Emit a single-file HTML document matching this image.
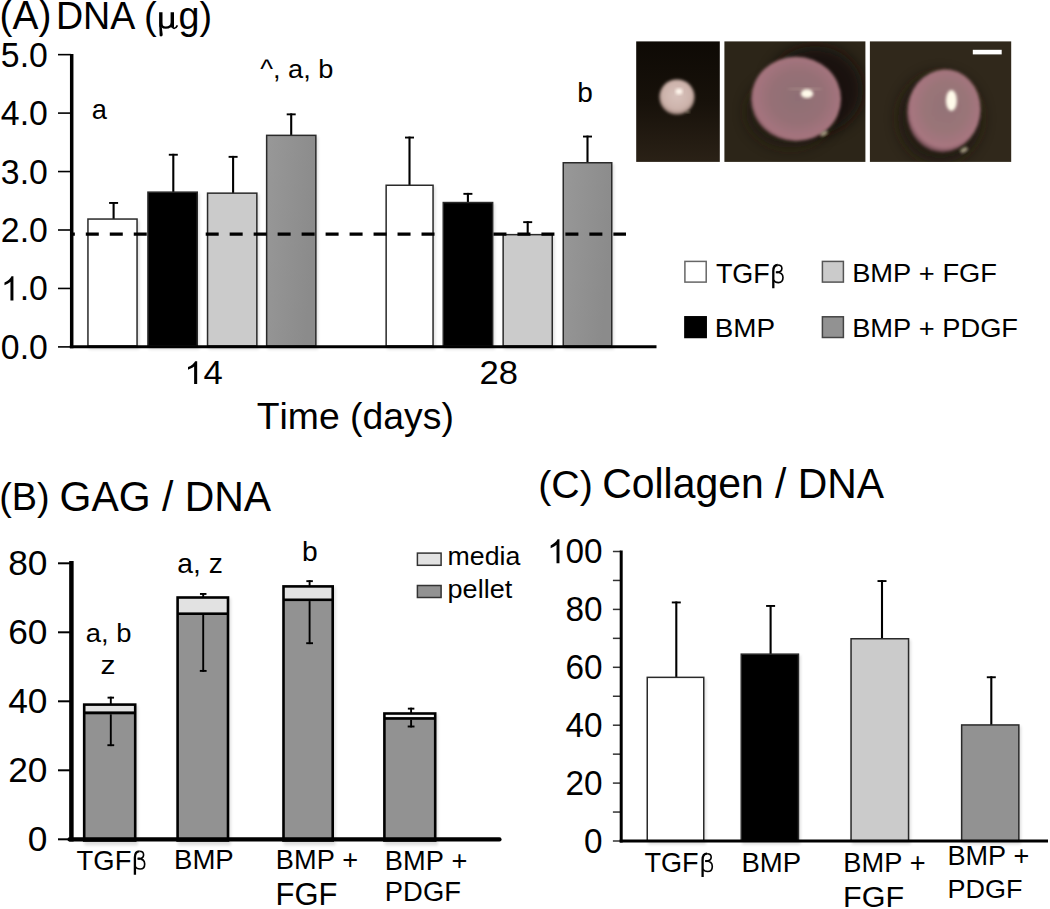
<!DOCTYPE html>
<html><head><meta charset="utf-8"><style>
html,body{margin:0;padding:0;background:#fff;}
svg{display:block;}
text{font-family:"Liberation Sans",sans-serif;font-kerning:none;}
text.sf{font-family:"Liberation Serif",serif;}
</style></head><body>
<svg width="1050" height="909" viewBox="0 0 1050 909">
<rect width="1050" height="909" fill="#fff"/>

<defs>
 <linearGradient id="dgg" x1="0" y1="0" x2="1" y2="0.3"><stop offset="0" stop-color="#989898"/><stop offset="1" stop-color="#8b8b8b"/></linearGradient>
 <filter id="shd" x="-20%" y="-20%" width="140%" height="140%"><feGaussianBlur stdDeviation="1.5"/></filter>
 <filter id="bl" x="-20%" y="-20%" width="140%" height="140%"><feGaussianBlur stdDeviation="1.4"/></filter>
 <filter id="bl2" x="-50%" y="-50%" width="200%" height="200%"><feGaussianBlur stdDeviation="7"/></filter>
 <filter id="bl3" x="-50%" y="-50%" width="200%" height="200%"><feGaussianBlur stdDeviation="1.8"/></filter>
 <radialGradient id="s1" cx="0.5" cy="0.45" r="0.55"><stop offset="0" stop-color="#d8c2bc"/><stop offset="0.75" stop-color="#ccb2aa"/><stop offset="1" stop-color="#9a8078"/></radialGradient>
 <radialGradient id="s2" cx="0.52" cy="0.48" r="0.55"><stop offset="0" stop-color="#8e6e74"/><stop offset="0.55" stop-color="#967076"/><stop offset="0.88" stop-color="#a6747e"/><stop offset="1" stop-color="#624046"/></radialGradient>
 <radialGradient id="s3" cx="0.52" cy="0.45" r="0.55"><stop offset="0" stop-color="#927276"/><stop offset="0.55" stop-color="#9a7478"/><stop offset="0.88" stop-color="#a87680"/><stop offset="1" stop-color="#644248"/></radialGradient>
 <clipPath id="c2"><rect x="724.4" y="41.4" width="141" height="120.5"/></clipPath>
 <clipPath id="c3"><rect x="869.9" y="41.4" width="141.3" height="120.5"/></clipPath>
</defs>
<linearGradient id="p1" x1="0" y1="0" x2="0" y2="1"><stop offset="0" stop-color="#0e0a05"/><stop offset="0.5" stop-color="#17110a"/><stop offset="1" stop-color="#2a2116"/></linearGradient>
<rect x="636.2" y="41.4" width="83.6" height="120.5" fill="url(#p1)"/>
<rect x="724.4" y="41.4" width="141" height="120.5" fill="#2c2518"/>
<rect x="869.9" y="41.4" width="141.3" height="120.5" fill="#30281b"/>
<g clip-path="url(#c2)">
 <ellipse cx="815" cy="90" rx="48" ry="44" fill="#120d07" filter="url(#bl2)" opacity="0.8"/>
 <ellipse cx="790" cy="112" rx="44" ry="36" fill="#1a140c" filter="url(#bl2)" opacity="0.6"/>
</g>
<g clip-path="url(#c3)">
 <ellipse cx="940" cy="118" rx="42" ry="45" fill="#1c150d" filter="url(#bl2)" opacity="0.7"/>
</g>
<circle cx="677" cy="97" r="17.6" fill="url(#s1)" filter="url(#bl)"/>
<ellipse cx="679" cy="91.5" rx="3.5" ry="3" fill="#fff6ec" filter="url(#bl)"/>
<ellipse cx="796" cy="99" rx="45" ry="42.3" fill="url(#s2)" filter="url(#bl)"/>
<ellipse cx="805" cy="89" rx="18" ry="1.4" fill="#c8b0a0" opacity="0.3" filter="url(#bl)"/>
<ellipse cx="807" cy="93.7" rx="6.2" ry="4.4" fill="#fffaea" filter="url(#bl)"/>
<ellipse cx="824" cy="133.5" rx="4" ry="2" fill="#c8c0a0" opacity="0.8" filter="url(#bl)" transform="rotate(-30 824 133.5)"/>
<ellipse cx="943.8" cy="110.8" rx="36.6" ry="41.5" fill="url(#s3)" filter="url(#bl)" transform="rotate(10 943.8 110.8)"/>
<ellipse cx="951.4" cy="100.5" rx="5.5" ry="10.5" fill="#fffaea" filter="url(#bl)"/>
<ellipse cx="964" cy="150" rx="4" ry="2.2" fill="#c8c0a0" opacity="0.8" filter="url(#bl)" transform="rotate(-30 964 150)"/>
<ellipse cx="688" cy="112" rx="2" ry="1" fill="#c8c0a0" opacity="0.6" filter="url(#bl)"/>
<rect x="972.8" y="49.8" width="28.9" height="4.6" fill="#ffffff"/>

<text transform="matrix(0.9719 0 0 1 -0.41 29.00)" font-size="40.00" fill="#000">(A)</text>
<text transform="matrix(0.9626 0 0 1 55.91 29.00)" font-size="39.10" fill="#000">DNA</text>
<text transform="matrix(0.9995 0 0 1 144.03 29.00)" font-size="38.30" fill="#000">(</text>
<g fill="#000"><path d="M159.1 12.3H162.5V26.8H159.1Z M170.6 12.3H174V27.6H170.6Z M159.3 26.5L161.7 26.5L162.7 34.6Q162.8 36.6 161 36.6Q159.3 36.6 159.6 34.8Z"/><path fill="none" stroke="#000" stroke-width="2.3" d="M160.9 22.5C160.9 26.4 163.1 27.7 165.8 27.7C168.7 27.7 171.4 26.2 172.2 22.5"/><path fill="none" stroke="#000" stroke-width="1.7" d="M172.4 26.8C173 28.6 175.6 29.4 177.4 25.4"/></g>
<text transform="matrix(0.9843 0 0 1 178.42 29.00)" font-size="38.30" fill="#000">g)</text>
<text transform="matrix(0.9655 0 0 1 0.84 358.90)" font-size="35.00" fill="#000">0.0</text>
<line x1="58.00" y1="346.90" x2="71.00" y2="346.90" stroke="#000" stroke-width="1.6"/>
<text transform="matrix(0.9655 0 0 1 0.84 300.45)" font-size="35.00" fill="#000"><tspan x="19.47">.0</tspan></text>
<path transform="matrix(0.9655 0 0 1 0.84 300.45) translate(0.00 0) scale(0.01709 -0.01709)" d="M763 0H583V1090Q518 1030 412 972T221 884V1050Q372 1118 485 1215T645 1409H763Z" fill="#000"/>
<line x1="58.00" y1="288.45" x2="71.00" y2="288.45" stroke="#000" stroke-width="1.6"/>
<text transform="matrix(0.9655 0 0 1 0.84 242.00)" font-size="35.00" fill="#000">2.0</text>
<line x1="58.00" y1="230.00" x2="71.00" y2="230.00" stroke="#000" stroke-width="1.6"/>
<text transform="matrix(0.9655 0 0 1 0.84 183.55)" font-size="35.00" fill="#000">3.0</text>
<line x1="58.00" y1="171.55" x2="71.00" y2="171.55" stroke="#000" stroke-width="1.6"/>
<text transform="matrix(0.9655 0 0 1 0.84 125.10)" font-size="35.00" fill="#000">4.0</text>
<line x1="58.00" y1="113.10" x2="71.00" y2="113.10" stroke="#000" stroke-width="1.6"/>
<text transform="matrix(0.9655 0 0 1 0.84 66.65)" font-size="35.00" fill="#000">5.0</text>
<line x1="58.00" y1="54.65" x2="71.00" y2="54.65" stroke="#000" stroke-width="1.6"/>
<rect x="88.70" y="220.30" width="50.60" height="129.20" fill="#000" opacity="0.13" filter="url(#shd)"/>
<rect x="148.70" y="193.40" width="50.80" height="156.10" fill="#000" opacity="0.13" filter="url(#shd)"/>
<rect x="208.30" y="194.40" width="50.80" height="155.10" fill="#000" opacity="0.13" filter="url(#shd)"/>
<rect x="267.40" y="136.60" width="50.70" height="212.90" fill="#000" opacity="0.13" filter="url(#shd)"/>
<rect x="386.90" y="186.50" width="48.40" height="163.00" fill="#000" opacity="0.13" filter="url(#shd)"/>
<rect x="444.00" y="203.80" width="50.90" height="145.70" fill="#000" opacity="0.13" filter="url(#shd)"/>
<rect x="503.90" y="235.90" width="50.60" height="113.60" fill="#000" opacity="0.13" filter="url(#shd)"/>
<rect x="564.00" y="164.00" width="50.00" height="185.50" fill="#000" opacity="0.13" filter="url(#shd)"/>
<line x1="113.60" y1="202.00" x2="113.60" y2="219.30" stroke="#000" stroke-width="2.1"/>
<line x1="109.10" y1="202.95" x2="118.10" y2="202.95" stroke="#000" stroke-width="1.9"/>
<rect x="87.95" y="219.05" width="49.10" height="126.95" fill="#ffffff" stroke="#2a2a2a" stroke-width="1.5"/>
<line x1="173.30" y1="153.80" x2="173.30" y2="192.40" stroke="#000" stroke-width="2.1"/>
<line x1="168.80" y1="154.75" x2="177.80" y2="154.75" stroke="#000" stroke-width="1.9"/>
<rect x="147.95" y="192.15" width="49.30" height="153.85" fill="#000000" stroke="#2a2a2a" stroke-width="1.5"/>
<line x1="233.10" y1="155.90" x2="233.10" y2="193.40" stroke="#000" stroke-width="2.1"/>
<line x1="228.60" y1="156.85" x2="237.60" y2="156.85" stroke="#000" stroke-width="1.9"/>
<rect x="207.55" y="193.15" width="49.30" height="152.85" fill="#cbcbcb" stroke="#2a2a2a" stroke-width="1.5"/>
<line x1="291.20" y1="113.40" x2="291.20" y2="135.60" stroke="#000" stroke-width="2.1"/>
<line x1="286.70" y1="114.35" x2="295.70" y2="114.35" stroke="#000" stroke-width="1.9"/>
<rect x="266.65" y="135.35" width="49.20" height="210.65" fill="url(#dgg)" stroke="#2a2a2a" stroke-width="1.5"/>
<line x1="409.50" y1="136.60" x2="409.50" y2="185.50" stroke="#000" stroke-width="2.1"/>
<line x1="405.00" y1="137.55" x2="414.00" y2="137.55" stroke="#000" stroke-width="1.9"/>
<rect x="386.15" y="185.25" width="46.90" height="160.75" fill="#ffffff" stroke="#2a2a2a" stroke-width="1.5"/>
<line x1="467.90" y1="192.90" x2="467.90" y2="202.80" stroke="#000" stroke-width="2.1"/>
<line x1="463.40" y1="193.85" x2="472.40" y2="193.85" stroke="#000" stroke-width="1.9"/>
<rect x="443.25" y="202.55" width="49.40" height="143.45" fill="#000000" stroke="#2a2a2a" stroke-width="1.5"/>
<line x1="527.70" y1="221.20" x2="527.70" y2="234.90" stroke="#000" stroke-width="2.1"/>
<line x1="523.20" y1="222.15" x2="532.20" y2="222.15" stroke="#000" stroke-width="1.9"/>
<rect x="503.15" y="234.65" width="49.10" height="111.35" fill="#cbcbcb" stroke="#2a2a2a" stroke-width="1.5"/>
<line x1="587.50" y1="135.60" x2="587.50" y2="163.00" stroke="#000" stroke-width="2.1"/>
<line x1="583.00" y1="136.55" x2="592.00" y2="136.55" stroke="#000" stroke-width="1.9"/>
<rect x="563.25" y="162.75" width="48.50" height="183.25" fill="url(#dgg)" stroke="#2a2a2a" stroke-width="1.5"/>
<line x1="70.00" y1="234.20" x2="626.00" y2="234.20" stroke="#000" stroke-width="3.2" stroke-dasharray="13 10.98" stroke-dashoffset="8.18"/>
<line x1="71.70" y1="54.00" x2="71.70" y2="348.20" stroke="#000" stroke-width="3.5"/>
<line x1="69.80" y1="346.70" x2="656.50" y2="346.70" stroke="#000" stroke-width="3.0"/>
<text transform="matrix(1.0552 0 0 1 184.26 383.90)" font-size="32.85" fill="#000"><tspan x="18.27">4</tspan></text>
<path transform="matrix(1.0552 0 0 1 184.26 383.90) translate(0.00 0) scale(0.01604 -0.01604)" d="M763 0H583V1090Q518 1030 412 972T221 884V1050Q372 1118 485 1215T645 1409H763Z" fill="#000"/>
<text transform="matrix(1.0446 0 0 1 479.46 384.10)" font-size="33.08" fill="#000">28</text>
<text transform="matrix(1.0024 0 0 1 256.76 429.00)" font-size="37.26" fill="#000">Time (days)</text>
<text transform="matrix(0.9976 0 0 1 91.84 118.70)" font-size="27.32" fill="#000">a</text>
<text transform="matrix(1.0323 0 0 1 260.17 78.00)" font-size="26.36" fill="#000">^, a, b</text>
<text transform="matrix(1.0306 0 0 1 577.29 101.70)" font-size="27.19" fill="#000">b</text>
<rect x="684.90" y="261.40" width="21.30" height="20.70" fill="#ffffff" stroke="#666" stroke-width="1.5"/>
<rect x="822.40" y="261.40" width="21.00" height="20.70" fill="#cbcbcb" stroke="#555" stroke-width="1.5"/>
<rect x="684.90" y="316.80" width="21.30" height="20.70" fill="#000000" stroke="#000" stroke-width="1.5"/>
<rect x="822.40" y="316.80" width="21.00" height="20.70" fill="#929292" stroke="#444" stroke-width="1.5"/>
<text transform="matrix(0.9750 0 0 1 715.89 282.80)" font-size="27.64" fill="#000">TGF</text>
<g transform="translate(771.70 264.30) scale(1.0000 1.0000) translate(-771.7 -264.3)" fill="none" stroke="#000"><path stroke-width="2.3" d="M773.3 288.2 L773.3 271 C773.3 267 775.2 265 777.8 265"/><path stroke-width="1.6" d="M777.8 265 C780.4 265 781.9 266.4 781.9 268.6 C781.9 270.8 779.8 272.3 776.3 272.3 C780.9 272.3 783.0 274.6 783.0 277.6 C783.0 280.8 780.9 282.6 778.4 282.6 C776.2 282.6 774.4 281.6 773.4 280"/><path stroke-width="2.0" d="M775.8 272.3 L778.4 272.3"/></g>
<text transform="matrix(1.0302 0 0 1 852.16 282.40)" font-size="26.50" fill="#000">BMP + FGF</text>
<text transform="matrix(1.0826 0 0 1 714.72 337.10)" font-size="25.73" fill="#000">BMP</text>
<text transform="matrix(1.0462 0 0 1 852.16 337.00)" font-size="26.07" fill="#000">BMP + PDGF</text>
<text transform="matrix(0.9521 0 0 1 -0.74 510.00)" font-size="39.70" fill="#000">(B)</text>
<text transform="matrix(0.9751 0 0 1 59.54 510.90)" font-size="42.00" fill="#000">GAG / DNA</text>
<text transform="matrix(1.0090 0 0 1 27.84 850.70)" font-size="35.00" fill="#000">0</text>
<line x1="58.00" y1="839.30" x2="71.00" y2="839.30" stroke="#000" stroke-width="2.0"/>
<text transform="matrix(1.0090 0 0 1 8.20 781.70)" font-size="35.00" fill="#000">20</text>
<line x1="58.00" y1="770.30" x2="71.00" y2="770.30" stroke="#000" stroke-width="2.0"/>
<text transform="matrix(1.0090 0 0 1 8.20 712.70)" font-size="35.00" fill="#000">40</text>
<line x1="58.00" y1="701.30" x2="71.00" y2="701.30" stroke="#000" stroke-width="2.0"/>
<text transform="matrix(1.0090 0 0 1 8.20 643.70)" font-size="35.00" fill="#000">60</text>
<line x1="58.00" y1="632.30" x2="71.00" y2="632.30" stroke="#000" stroke-width="2.0"/>
<text transform="matrix(1.0090 0 0 1 8.20 574.70)" font-size="35.00" fill="#000">80</text>
<line x1="58.00" y1="563.30" x2="71.00" y2="563.30" stroke="#000" stroke-width="2.0"/>
<rect x="84.40" y="705.30" width="53.60" height="140.00" fill="#000" opacity="0.13" filter="url(#shd)"/>
<rect x="177.80" y="598.20" width="53.00" height="247.10" fill="#000" opacity="0.13" filter="url(#shd)"/>
<rect x="283.70" y="587.10" width="51.80" height="258.20" fill="#000" opacity="0.13" filter="url(#shd)"/>
<rect x="384.60" y="714.20" width="53.40" height="131.10" fill="#000" opacity="0.13" filter="url(#shd)"/>
<line x1="110.80" y1="696.70" x2="110.80" y2="704.30" stroke="#000" stroke-width="1.9"/>
<line x1="107.55" y1="697.65" x2="114.05" y2="697.65" stroke="#000" stroke-width="1.9"/>
<rect x="82.90" y="703.30" width="53.60" height="138.50" fill="#000"/>
<rect x="85.50" y="705.90" width="48.40" height="5.50" fill="#e2e2e2"/>
<rect x="85.50" y="714.30" width="48.40" height="124.90" fill="#929292"/>
<line x1="110.80" y1="714.30" x2="110.80" y2="746.10" stroke="#000" stroke-width="1.9"/>
<line x1="107.40" y1="745.20" x2="114.20" y2="745.20" stroke="#000" stroke-width="1.9"/>
<line x1="203.20" y1="593.00" x2="203.20" y2="597.20" stroke="#000" stroke-width="1.9"/>
<line x1="199.95" y1="593.95" x2="206.45" y2="593.95" stroke="#000" stroke-width="1.9"/>
<rect x="176.30" y="596.20" width="53.00" height="245.60" fill="#000"/>
<rect x="178.90" y="598.80" width="47.80" height="13.60" fill="#e2e2e2"/>
<rect x="178.90" y="615.00" width="47.80" height="224.20" fill="#929292"/>
<line x1="203.20" y1="615.00" x2="203.20" y2="671.80" stroke="#000" stroke-width="1.9"/>
<line x1="199.80" y1="670.90" x2="206.60" y2="670.90" stroke="#000" stroke-width="1.9"/>
<line x1="309.60" y1="580.20" x2="309.60" y2="586.10" stroke="#000" stroke-width="1.9"/>
<line x1="306.35" y1="581.15" x2="312.85" y2="581.15" stroke="#000" stroke-width="1.9"/>
<rect x="282.20" y="585.10" width="51.80" height="256.70" fill="#000"/>
<rect x="284.80" y="587.70" width="46.60" height="10.80" fill="#e2e2e2"/>
<rect x="284.80" y="601.10" width="46.60" height="238.10" fill="#929292"/>
<line x1="309.60" y1="601.10" x2="309.60" y2="644.10" stroke="#000" stroke-width="1.9"/>
<line x1="306.20" y1="643.20" x2="313.00" y2="643.20" stroke="#000" stroke-width="1.9"/>
<line x1="411.10" y1="707.70" x2="411.10" y2="713.20" stroke="#000" stroke-width="1.9"/>
<line x1="407.85" y1="708.65" x2="414.35" y2="708.65" stroke="#000" stroke-width="1.9"/>
<rect x="383.10" y="712.20" width="53.40" height="129.60" fill="#000"/>
<rect x="385.70" y="714.80" width="48.20" height="2.30" fill="#f6f6f6"/>
<rect x="385.70" y="719.80" width="48.20" height="119.40" fill="#929292"/>
<line x1="411.10" y1="719.80" x2="411.10" y2="727.40" stroke="#000" stroke-width="1.9"/>
<line x1="407.70" y1="726.50" x2="414.50" y2="726.50" stroke="#000" stroke-width="1.9"/>
<line x1="71.40" y1="561.00" x2="71.40" y2="841.50" stroke="#000" stroke-width="4.5"/>
<line x1="69.50" y1="839.40" x2="499.50" y2="839.40" stroke="#000" stroke-width="4.2" stroke-linecap="round"/>
<text transform="matrix(1.0290 0 0 1 85.74 641.60)" font-size="26.64" fill="#000">a, b</text>
<text transform="matrix(1.1412 0 0 1 100.38 674.30)" font-size="26.31" fill="#000">z</text>
<text transform="matrix(1.0061 0 0 1 177.30 572.50)" font-size="28.06" fill="#000">a, z</text>
<text transform="matrix(1.0548 0 0 1 301.88 560.50)" font-size="26.77" fill="#000">b</text>
<rect x="417.40" y="553.10" width="23.70" height="12.20" fill="#e2e2e2" stroke="#333" stroke-width="1.5"/>
<rect x="417.40" y="585.50" width="23.70" height="12.00" fill="#929292" stroke="#333" stroke-width="1.5"/>
<text transform="matrix(1.0083 0 0 1 447.53 565.40)" font-size="26.50" fill="#000">media</text>
<text transform="matrix(1.0204 0 0 1 447.56 597.60)" font-size="26.50" fill="#000">pellet</text>
<text transform="matrix(0.9816 0 0 1 76.58 869.70)" font-size="27.93" fill="#000">TGF</text>
<g transform="translate(133.30 850.60) scale(1.0083 1.0083) translate(-771.7 -264.3)" fill="none" stroke="#000"><path stroke-width="2.3" d="M773.3 288.2 L773.3 271 C773.3 267 775.2 265 777.8 265"/><path stroke-width="1.6" d="M777.8 265 C780.4 265 781.9 266.4 781.9 268.6 C781.9 270.8 779.8 272.3 776.3 272.3 C780.9 272.3 783.0 274.6 783.0 277.6 C783.0 280.8 780.9 282.6 778.4 282.6 C776.2 282.6 774.4 281.6 773.4 280"/><path stroke-width="2.0" d="M775.8 272.3 L778.4 272.3"/></g>
<text transform="matrix(0.9673 0 0 1 174.04 869.30)" font-size="28.49" fill="#000">BMP</text>
<text transform="matrix(0.9796 0 0 1 275.87 869.30)" font-size="27.76" fill="#000">BMP +</text>
<text transform="matrix(1.0004 0 0 1 275.56 905.20)" font-size="30.93" fill="#000">FGF</text>
<text transform="matrix(1.0072 0 0 1 384.87 869.50)" font-size="27.04" fill="#000">BMP +</text>
<text transform="matrix(1.0181 0 0 1 384.85 900.90)" font-size="26.92" fill="#000">PDGF</text>
<text transform="matrix(0.9903 0 0 1 538.16 498.10)" font-size="39.70" fill="#000">(C)</text>
<text transform="matrix(0.9671 0 0 1 602.22 498.00)" font-size="42.30" fill="#000">Collagen / DNA</text>
<line x1="612.90" y1="841.00" x2="621.00" y2="841.00" stroke="#333" stroke-width="1.5"/>
<line x1="612.90" y1="812.05" x2="621.00" y2="812.05" stroke="#333" stroke-width="1.5"/>
<line x1="612.90" y1="783.10" x2="621.00" y2="783.10" stroke="#333" stroke-width="1.5"/>
<line x1="612.90" y1="754.15" x2="621.00" y2="754.15" stroke="#333" stroke-width="1.5"/>
<line x1="612.90" y1="725.20" x2="621.00" y2="725.20" stroke="#333" stroke-width="1.5"/>
<line x1="612.90" y1="696.25" x2="621.00" y2="696.25" stroke="#333" stroke-width="1.5"/>
<line x1="612.90" y1="667.30" x2="621.00" y2="667.30" stroke="#333" stroke-width="1.5"/>
<line x1="612.90" y1="638.35" x2="621.00" y2="638.35" stroke="#333" stroke-width="1.5"/>
<line x1="612.90" y1="609.40" x2="621.00" y2="609.40" stroke="#333" stroke-width="1.5"/>
<line x1="612.90" y1="580.45" x2="621.00" y2="580.45" stroke="#333" stroke-width="1.5"/>
<line x1="612.90" y1="551.50" x2="621.00" y2="551.50" stroke="#333" stroke-width="1.5"/>
<text transform="matrix(0.9540 0 0 1 584.08 852.80)" font-size="34.90" fill="#000">0</text>
<text transform="matrix(0.9540 0 0 1 565.57 794.90)" font-size="34.90" fill="#000">20</text>
<text transform="matrix(0.9540 0 0 1 565.57 737.00)" font-size="34.90" fill="#000">40</text>
<text transform="matrix(0.9540 0 0 1 565.57 679.10)" font-size="34.90" fill="#000">60</text>
<text transform="matrix(0.9540 0 0 1 565.57 621.20)" font-size="34.90" fill="#000">80</text>
<text transform="matrix(0.9540 0 0 1 547.05 563.30)" font-size="34.90" fill="#000"><tspan x="19.41">00</tspan></text>
<path transform="matrix(0.9540 0 0 1 547.05 563.30) translate(0.00 0) scale(0.01704 -0.01704)" d="M763 0H583V1090Q518 1030 412 972T221 884V1050Q372 1118 485 1215T645 1409H763Z" fill="#000"/>
<rect x="648.00" y="678.60" width="58.00" height="165.90" fill="#000" opacity="0.13" filter="url(#shd)"/>
<rect x="742.00" y="655.40" width="58.70" height="189.10" fill="#000" opacity="0.13" filter="url(#shd)"/>
<rect x="851.80" y="640.00" width="59.00" height="204.50" fill="#000" opacity="0.13" filter="url(#shd)"/>
<rect x="962.40" y="726.20" width="58.70" height="118.30" fill="#000" opacity="0.13" filter="url(#shd)"/>
<line x1="676.30" y1="601.50" x2="676.30" y2="677.60" stroke="#000" stroke-width="2.1"/>
<line x1="671.80" y1="602.45" x2="680.80" y2="602.45" stroke="#000" stroke-width="1.9"/>
<rect x="647.25" y="677.35" width="56.50" height="163.65" fill="#ffffff" stroke="#2a2a2a" stroke-width="1.5"/>
<line x1="770.60" y1="605.00" x2="770.60" y2="654.40" stroke="#000" stroke-width="2.1"/>
<line x1="766.10" y1="605.95" x2="775.10" y2="605.95" stroke="#000" stroke-width="1.9"/>
<rect x="741.25" y="654.15" width="57.20" height="186.85" fill="#000000" stroke="#2a2a2a" stroke-width="1.5"/>
<line x1="882.00" y1="580.10" x2="882.00" y2="639.00" stroke="#000" stroke-width="2.1"/>
<line x1="877.50" y1="581.05" x2="886.50" y2="581.05" stroke="#000" stroke-width="1.9"/>
<rect x="851.05" y="638.75" width="57.50" height="202.25" fill="#cbcbcb" stroke="#2a2a2a" stroke-width="1.5"/>
<line x1="991.30" y1="676.30" x2="991.30" y2="725.20" stroke="#000" stroke-width="2.1"/>
<line x1="986.80" y1="677.25" x2="995.80" y2="677.25" stroke="#000" stroke-width="1.9"/>
<rect x="961.65" y="724.95" width="57.20" height="116.05" fill="#929292" stroke="#2a2a2a" stroke-width="1.5"/>
<line x1="621.20" y1="550.50" x2="621.20" y2="842.50" stroke="#000" stroke-width="3.0"/>
<line x1="619.70" y1="841.00" x2="1048.00" y2="841.00" stroke="#000" stroke-width="3.0"/>
<text transform="matrix(0.9705 0 0 1 644.39 871.70)" font-size="27.93" fill="#000">TGF</text>
<g transform="translate(701.00 853.00) scale(1.0000 1.0083) translate(-771.7 -264.3)" fill="none" stroke="#000"><path stroke-width="2.3" d="M773.3 288.2 L773.3 271 C773.3 267 775.2 265 777.8 265"/><path stroke-width="1.6" d="M777.8 265 C780.4 265 781.9 266.4 781.9 268.6 C781.9 270.8 779.8 272.3 776.3 272.3 C780.9 272.3 783.0 274.6 783.0 277.6 C783.0 280.8 780.9 282.6 778.4 282.6 C776.2 282.6 774.4 281.6 773.4 280"/><path stroke-width="2.0" d="M775.8 272.3 L778.4 272.3"/></g>
<text transform="matrix(0.9772 0 0 1 741.44 871.70)" font-size="28.20" fill="#000">BMP</text>
<text transform="matrix(0.9900 0 0 1 843.37 871.60)" font-size="27.47" fill="#000">BMP +</text>
<text transform="matrix(1.0166 0 0 1 843.09 906.70)" font-size="30.08" fill="#000">FGF</text>
<text transform="matrix(0.9696 0 0 1 947.48 865.30)" font-size="27.91" fill="#000">BMP +</text>
<text transform="matrix(1.0121 0 0 1 947.49 897.60)" font-size="26.64" fill="#000">PDGF</text>
</svg>
</body></html>
